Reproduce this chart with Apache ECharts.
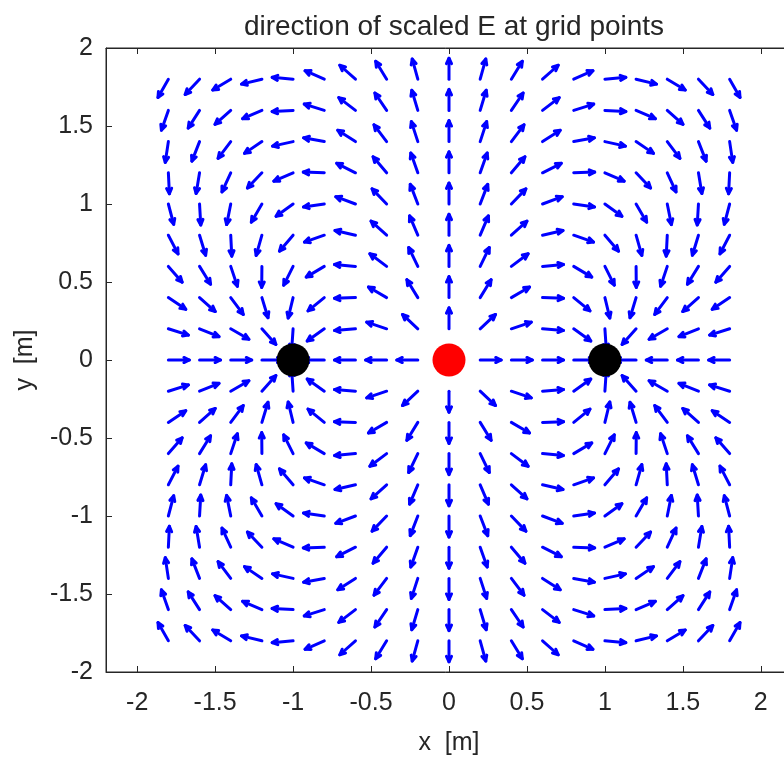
<!DOCTYPE html>
<html>
<head>
<meta charset="utf-8">
<script src="https://cdn.jsdelivr.net/npm/echarts@6/dist/echarts.min.js"></script>
<style>html,body{margin:0;padding:0;background:#fff;}#c{width:784px;height:760px;}</style>
</head>
<body>
<div id="c"></div>
<script>
// grid points (x and y) where the field direction is shown
var gridX = [-1.8,-1.6,-1.4,-1.2,-1.0,-0.8,-0.6,-0.4,-0.2,0.0,0.2,0.4,0.6,0.8,1.0,1.2,1.4,1.6,1.8];
var gridY = [-1.8,-1.6,-1.4,-1.2,-1.0,-0.8,-0.6,-0.4,-0.2,0.0,0.2,0.4,0.6,0.8,1.0,1.2,1.4,1.6,1.8];
// point charges: black (negative) at ±1, red (positive, double) at 0
var chargeX = [-1, 0, 1];
var chargeY = [0, 0, 0];
var chargeQ = [-1, 2, -1];
// axis tick labels
var xTicks = [-2, -1.5, -1, -0.5, 0, 0.5, 1, 1.5, 2];
var yTicks = [-2, -1.5, -1, -0.5, 0, 0.5, 1, 1.5, 2];

// direction of E at each grid point (Coulomb superposition of the charges above)
var arrows = [];
gridX.forEach(function (x) {
  gridY.forEach(function (y) {
    var ex = 0, ey = 0, bad = false;
    for (var k = 0; k < chargeQ.length; k++) {
      var rx = x - chargeX[k], ry = y - chargeY[k];
      var r = Math.sqrt(rx * rx + ry * ry);
      if (r < 1e-9) { bad = true; break; }
      ex += chargeQ[k] * rx / (r * r * r);
      ey += chargeQ[k] * ry / (r * r * r);
    }
    if (bad) return;
    var m = Math.sqrt(ex * ex + ey * ey);
    arrows.push([x, y, ex / m, ey / m]);
  });
});

var negPts = [], posPts = [];
for (var k = 0; k < chargeQ.length; k++) {
  (chargeQ[k] < 0 ? negPts : posPts).push([chargeX[k], chargeY[k]]);
}

var TXT = '#262626';
var FONT = 'Liberation Sans, Arial, sans-serif';
var ARROW_PX = 21, HEAD_PX = 6, HEAD_ANG = 25 * Math.PI / 180;

function renderArrow(params, api) {
  var x = api.value(0), y = api.value(1), ux = api.value(2), uy = api.value(3);
  var p0 = api.coord([x, y]);
  var dx = ux, dy = -uy;
  var tip = [p0[0] + ARROW_PX * dx, p0[1] + ARROW_PX * dy];
  var ang = Math.atan2(dy, dx);
  var h1 = [tip[0] - HEAD_PX * Math.cos(ang - HEAD_ANG), tip[1] - HEAD_PX * Math.sin(ang - HEAD_ANG)];
  var h2 = [tip[0] - HEAD_PX * Math.cos(ang + HEAD_ANG), tip[1] - HEAD_PX * Math.sin(ang + HEAD_ANG)];
  var st = { stroke: '#0000ff', lineWidth: 3, fill: null, lineCap: 'round', lineJoin: 'round' };
  return {
    type: 'group',
    children: [
      { type: 'polyline', shape: { points: [p0, tip] }, style: st },
      { type: 'polyline', shape: { points: [h1, tip, h2] }, style: st }
    ]
  };
}

var chart = echarts.init(document.getElementById('c'), null, { renderer: 'canvas' });
chart.setOption({
  animation: false,
  backgroundColor: '#ffffff',
  title: {
    text: 'direction of scaled E at grid points',
    left: 449, textAlign: 'center', top: 8,
    textStyle: { fontFamily: FONT, fontSize: 28, fontWeight: 'normal', color: TXT }
  },
  grid: { left: 106, top: 48, width: 686, height: 624, outerBoundsMode: 'none', containLabel: false,
    show: true, borderColor: TXT, borderWidth: 1, backgroundColor: '#fff' },
  xAxis: [{
    type: 'value', min: -2.2, max: 2.2, position: 'bottom',
    name: 'x  [m]', nameLocation: 'middle', nameGap: 59,
    nameTextStyle: { fontFamily: FONT, fontSize: 25, color: TXT },
    axisLine: { show: true, onZero: false, lineStyle: { color: TXT, width: 1 } },
    axisTick: { show: true, inside: true, length: 6, customValues: xTicks, lineStyle: { color: TXT } },
    axisLabel: { show: true, customValues: xTicks, margin: 19, fontFamily: FONT, fontSize: 25, color: TXT },
    splitLine: { show: false }
  }, {
    type: 'value', min: -2.2, max: 2.2, position: 'top',
    axisLine: { show: true, onZero: false, lineStyle: { color: TXT, width: 1 } },
    axisTick: { show: true, inside: true, length: 6, customValues: xTicks, lineStyle: { color: TXT } },
    axisLabel: { show: false },
    splitLine: { show: false }
  }],
  yAxis: [{
    type: 'value', min: -2, max: 2, interval: 0.5, position: 'left',
    name: 'y  [m]', nameLocation: 'middle', nameGap: 68, nameRotate: 90,
    nameTextStyle: { fontFamily: FONT, fontSize: 25, color: TXT },
    axisLine: { show: true, onZero: false, lineStyle: { color: TXT, width: 1 } },
    axisTick: { show: true, inside: true, length: 6, lineStyle: { color: TXT } },
    axisLabel: { show: true, margin: 13, fontFamily: FONT, fontSize: 25, color: TXT,
      formatter: function (v) { return yTicks.indexOf(v) >= 0 ? String(v) : ''; } },
    splitLine: { show: false }
  }],
  series: [{
    type: 'custom', xAxisIndex: 0, yAxisIndex: 0,
    renderItem: renderArrow,
    data: arrows, clip: true, z: 2, silent: true
  }, {
    type: 'scatter', data: negPts, symbol: 'circle', symbolSize: 33,
    itemStyle: { color: '#000000', opacity: 1 }, z: 5, silent: true
  }, {
    type: 'scatter', data: posPts, symbol: 'circle', symbolSize: 33,
    itemStyle: { color: '#ff0000', opacity: 1 }, z: 5, silent: true
  }]
});
</script>
</body>
</html>
